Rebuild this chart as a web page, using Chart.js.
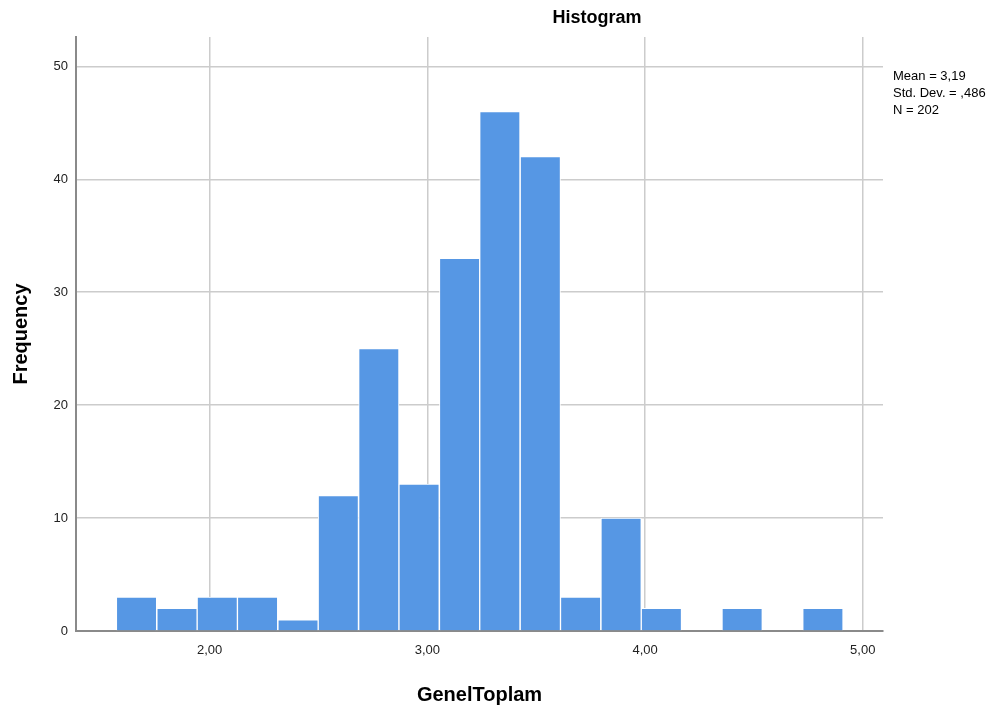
<!DOCTYPE html>
<html><head><meta charset="utf-8">
<script src="https://cdn.jsdelivr.net/npm/chart.js@4/dist/chart.umd.min.js"></script>
<style>html,body{margin:0;padding:0;background:#fff}#wrap{width:1008px;height:711px}</style>
</head><body><div id="wrap"><canvas id="c" width="1008" height="711"></canvas></div>
<script>
const binCenters = [1.664, 1.850, 2.035, 2.220, 2.406, 2.591, 2.777, 2.962, 3.148, 3.333, 3.519, 3.704, 3.890, 4.075, 4.261, 4.446, 4.632, 4.817];
const frequencies = [3, 2, 3, 3, 1, 12, 25, 13, 33, 46, 42, 3, 10, 2, 0, 2, 0, 2];
const xTicks = [2, 3, 4, 5];
const yTicks = [0, 10, 20, 30, 40, 50];
const statsLines = ['Mean = 3,19', 'Std. Dev. = ,486', 'N = 202'];
const chartTitle = 'Histogram';
const xTitle = 'GenelToplam';
const yTitle = 'Frequency';

const FONT = "'Liberation Sans', Arial, sans-serif";

const textPlugin = {
  id: 'texts',
  afterDraw(chart) {
    const ctx = chart.ctx;
    ctx.save();
    ctx.fillStyle = '#000';
    ctx.font = 'bold 18px ' + FONT;
    ctx.textAlign = 'center';
    ctx.textBaseline = 'middle';
    ctx.fillText(chartTitle, 597, 18);
    ctx.font = '13px ' + FONT;
    ctx.textAlign = 'left';
    statsLines.forEach((t, i) => ctx.fillText(t, 893, 76 + i * 17));
    ctx.restore();
  }
};

new Chart(document.getElementById('c'), {
  type: 'bar',
  data: {
    datasets: [{
      data: binCenters.map((x, i) => ({x: x, y: frequencies[i]})),
      backgroundColor: '#5697e4',
      borderColor: '#ffffff',
      borderWidth: 1,
      borderSkipped: 'start',
      barPercentage: 1,
      categoryPercentage: 1
    }]
  },
  options: {
    responsive: false,
    animation: false,
    layout: {padding: {left: 0, right: 125, top: 37, bottom: 0}},
    plugins: {legend: {display: false}, tooltip: {enabled: false}},
    scales: {
      x: {
        type: 'linear',
        offset: false,
        min: 1.386, max: 5.093,
        afterBuildTicks: s => { s.ticks = xTicks.map(v => ({value: v})); },
        afterFit: s => { s.height = 80; },
        ticks: {
          padding: 12,
          color: '#222',
          font: {family: FONT, size: 13},
          callback: v => v.toFixed(2).replace('.', ',')
        },
        grid: {offset: false, color: '#cccccc', lineWidth: 1.5, drawTicks: false},
        border: {color: '#8a8a8a', width: 2},
        title: {display: true, text: xTitle, color: '#000', font: {family: FONT, size: 20, weight: 'bold'}, padding: {top: 16}}
      },
      y: {
        min: 0, max: 52.6,
        afterBuildTicks: s => { s.ticks = yTicks.map(v => ({value: v})); },
        afterFit: s => { s.width = 76; },
        ticks: {
          padding: 8,
          color: '#222',
          font: {family: FONT, size: 13}
        },
        grid: {color: '#cccccc', lineWidth: 1.5, drawTicks: false},
        border: {color: '#8a8a8a', width: 2},
        title: {display: true, text: yTitle, color: '#000', font: {family: FONT, size: 20, weight: 'bold'}, padding: {top: 9, bottom: 0}}
      }
    }
  },
  plugins: [textPlugin]
});
</script></body></html>
